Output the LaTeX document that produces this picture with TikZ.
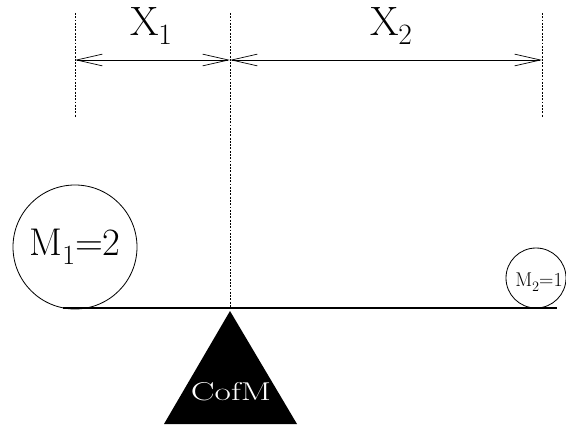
\RequirePackage{fix-cm}
\documentclass[tikz,border=0pt]{standalone}
\usetikzlibrary{arrows.meta,positioning}
\definecolor{ink}{HTML}{000000}
\tikzset{guide/.style={ink,line width=0.6pt,dash pattern=on 1.6pt off 1.2pt},
dimline/.style={ink,line width=0.6pt,{Straight Barb[length=22pt,width=10pt]}-{Straight Barb[length=22pt,width=10pt]}},
bigtxt/.style={font=\fontsize{35}{38}\selectfont,inner sep=0pt}}
\newcommand{\guideline}[3]{\draw[guide] (#1,#2)--(#1,#3);}
\newcommand{\lowsub}[1]{\raisebox{-0.24em}{\fontsize{0.72\dimexpr\fontdimen6\font}{1em}\selectfont #1}}
\begin{document}
\begin{tikzpicture}[x=0.03cm,y=-0.03cm]
\useasboundingbox (0,0) rectangle (566,424);
% guides and dimensions
\guideline{75}{13}{117}\guideline{230}{13}{308}\guideline{542}{13}{117}
\coordinate (dl) at (75,60);\coordinate (dm) at (230,60);\coordinate (dr) at (542,60);
\draw[dimline] (dl)--(dm);\draw[dimline] (dm)--(dr);
\node[bigtxt] (xone) at (151,26){X\lowsub{1}};
\node[bigtxt] (xtwo) at (391,26){X\lowsub{2}};
% beam, masses, pivot
\coordinate (bl) at (63,308);\coordinate (br) at (557,308);
\draw[ink,line width=1.2pt] (bl)--(br);
\node[draw,circle,line width=0.7pt,minimum size=3.72cm,inner sep=0pt,font=\fontsize{33}{36}\selectfont] (mone) at (75,247){M\lowsub{1}=2};
\node[draw,circle,line width=0.7pt,minimum size=1.8cm,inner sep=0pt] (mtwo) at (536,278){};
\node[font=\fontsize{17}{19}\selectfont,inner sep=0pt] (mtwolab) at (539,282){M\lowsub{2}=1};
\fill[ink] (230,311)--(164,424)--(297,424)--cycle;
\node[white,font=\fontsize{22}{24}\selectfont,xscale=1.38,transform shape] (cofm) at (231,392){CofM};
\end{tikzpicture}
\end{document}
